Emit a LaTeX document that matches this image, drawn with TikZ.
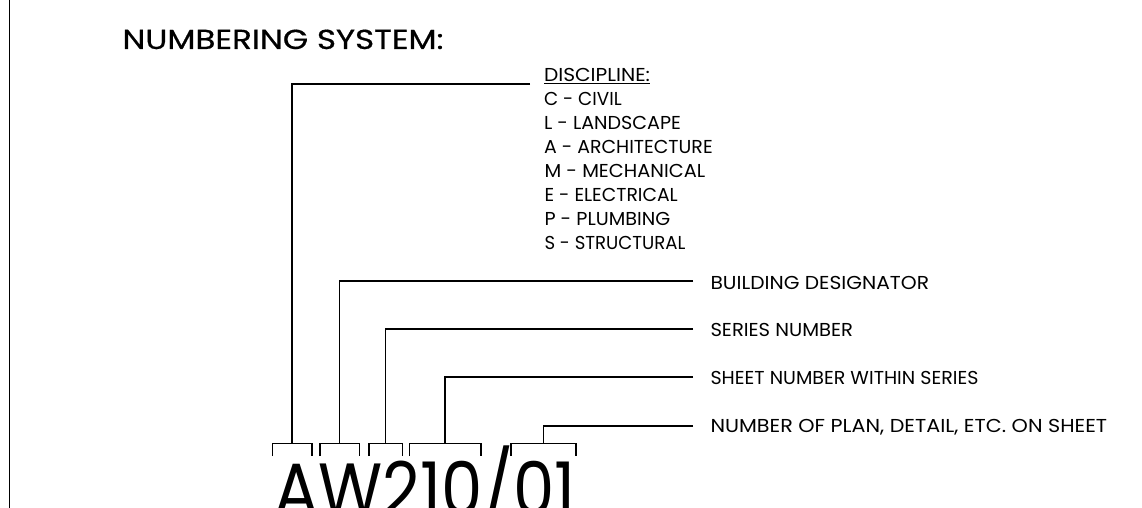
\documentclass[tikz,border=0pt]{standalone}
\usepackage{fontspec}
\usepackage{graphicx}
\setmainfont{Poppins}
\newfontfamily\ttlfont[FakeBold=0.6]{Poppins}
\newlength\fitlen
% scale text horizontally so that its width becomes #1 (pt)
\newcommand\fitw[2]{\settowidth\fitlen{#2}\pgfmathsetmacro\fitsc{#1/\fitlen}\scalebox{\fitsc}[1]{#2}}
\tikzset{
  lbl/.style={anchor=base west, inner sep=0pt, outer sep=0pt, font=\fontsize{18.7}{23}\selectfont},
  ttlstyle/.style={anchor=base west, inner sep=0pt, outer sep=0pt, font=\ttlfont\fontsize{27.5}{34}\selectfont},
  bigstyle/.style={anchor=base west, inner sep=0pt, outer sep=0pt, font=\fontsize{74}{80}\selectfont},
  leader/.style={line width=1.6pt, line cap=butt, line join=miter},
  brk/.style={line width=1.6pt, line cap=butt, line join=miter},
}
\begin{document}
\begin{tikzpicture}[x=1pt,y=-1pt]
\useasboundingbox (0,0) rectangle (1142,508);
\clip (0,0) rectangle (1142,508);
\fill[white] (0,0) rectangle (1142,508);
% left border
\draw[line width=1.5pt] (9.3,0) -- (9.3,508);
% title
\node[ttlstyle] (ttl) at (122.5,49) {\fitw{321}{NUMBERING SYSTEM:}};
% discipline list
\node[lbl] (disc) at (544,81.5) {\fitw{106}{DISCIPLINE:}};
\draw[line width=1pt] ([yshift=-2.2pt]disc.base west) -- ([yshift=-2.2pt]disc.base east);
\node[lbl] (civ) at (544,105.5) {\fitw{77.7}{C - CIVIL}};
\node[lbl] (lan) at (544,129.4) {\fitw{137}{L - LANDSCAPE}};
\node[lbl] (arc) at (544,153.4) {\fitw{168.7}{A - ARCHITECTURE}};
\node[lbl] (mec) at (544.5,177.3) {\fitw{160.7}{M - MECHANICAL}};
\node[lbl] (ele) at (544.5,201.3) {\fitw{133.3}{E - ELECTRICAL}};
\node[lbl] (plu) at (544.5,225.2) {\fitw{125.7}{P - PLUMBING}};
\node[lbl] (str) at (544.5,249.2) {\fitw{141}{S - STRUCTURAL}};
% right labels
\node[lbl] (bd) at (710.5,289) {\fitw{218.6}{BUILDING DESIGNATOR}};
\node[lbl] (sn) at (710.5,336.8) {\fitw{142.6}{SERIES NUMBER}};
\node[lbl] (sh) at (710.5,384.5) {\fitw{268}{SHEET NUMBER WITHIN SERIES}};
\node[lbl] (np) at (710.5,432.8) {\fitw{396.6}{NUMBER OF PLAN, DETAIL, ETC. ON SHEET}};
% big number
\node[bigstyle] (num) at (274,515) {\fitw{302}{AW210/01}};
% brackets
\foreach \a/\b/\n in {272.3/311.7/1, 320/359.3/2, 369/402.3/3, 409.3/481/4, 511/576/5}{
  \draw[brk] (\a,456) -- (\a,443.3) -- (\b,443.3) -- (\b,456);
  \coordinate (k\n) at ({(\a+\b)/2},443.3);
}
% leader ends
\coordinate (e1) at (530,84);
\coordinate (e2) at (693,280.7);
\coordinate (e3) at (693,329);
\coordinate (e4) at (693,376.7);
\coordinate (e5) at (693,425.7);
\draw[leader] (e1) -| (k1);
\draw[leader] (e2) -| (k2);
\draw[leader] (e3) -| (k3);
\draw[leader] (e4) -| (k4);
\draw[leader] (e5) -| (k5);
\end{tikzpicture}
\end{document}
